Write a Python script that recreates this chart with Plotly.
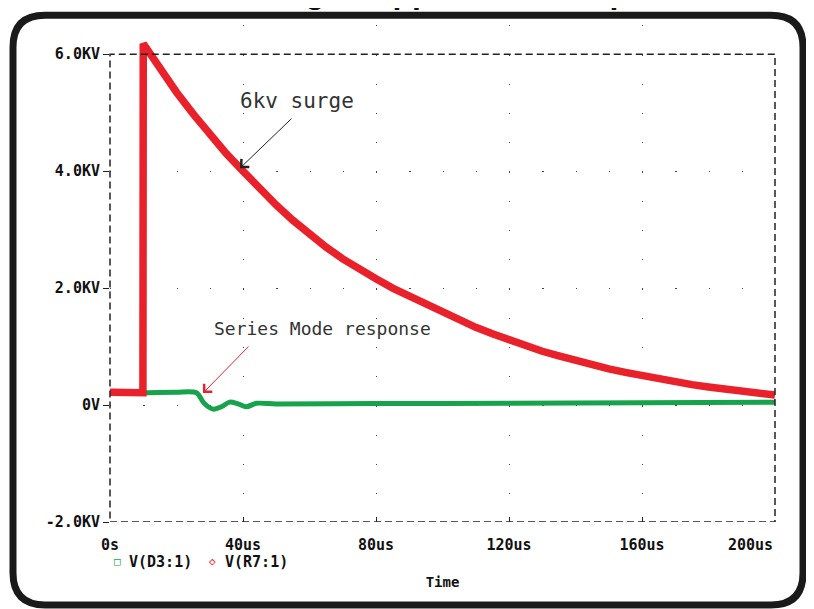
import plotly.graph_objects as go

# ---- data ----
t_surge = [0, 9.9, 10, 15, 20, 25, 30, 35, 40, 45, 50, 55, 60, 65, 70, 75, 80, 85, 90,
           95, 100, 105, 110, 115, 120, 125, 130, 135, 140, 145, 150, 155, 160, 165,
           170, 175, 180, 185, 190, 195, 200]            # us
v_surge = [0.22, 0.21, 6.18, 5.75, 5.35, 4.98, 4.63, 4.30, 4.00, 3.70, 3.42, 3.16, 2.92,
           2.70, 2.50, 2.32, 2.16, 2.00, 1.86, 1.72, 1.58, 1.45, 1.33, 1.22, 1.11, 1.01,
           0.92, 0.84, 0.76, 0.69, 0.62, 0.56, 0.50, 0.45, 0.40, 0.35, 0.31, 0.27, 0.23,
           0.20, 0.17]  # kV

t_resp = [0, 9.9, 10, 20, 26, 28.3, 31, 33.5, 36, 38.5, 41, 44, 50, 80, 120, 160, 200]
v_resp = [0.22, 0.21, 0.21, 0.22, 0.21, 0.03, -0.07, -0.03, 0.05, 0.02, -0.03, 0.03,
          0.02, 0.025, 0.03, 0.04, 0.05]

x_ticks = [0, 40, 80, 120, 160, 200]
x_labels = ["0s", "40us", "80us", "120us", "160us", "200us"]
y_ticks = [-2, 0, 2, 4, 6]
y_labels = ["-2.0KV", "0V", "2.0KV", "4.0KV", "6.0KV"]

series_names = ["V(D3:1)", "V(R7:1)"]
RED = "#e8212b"
GREEN = "#17a24c"

# page has an 8px body margin: figure is drawn from screen (8, 8)
OFF = 8
W, H = 814 - OFF, 609 - OFF
X_MIN, X_MAX = 0, 200
Y_MIN, Y_MAX = -2, 6          # framed range
Y_TOP = 6.5                   # extra headroom so the surge spike can poke above the frame
PL, PR = 110, 775             # screen x of 0s and 200us
S_LO, S_HI = 522, 54          # screen y of -2 kV and 6 kV
KV = (S_LO - S_HI) / (Y_MAX - Y_MIN)
PT, PB = S_HI - (Y_TOP - Y_MAX) * KV, S_LO
ML, MT = PL - OFF, PT - OFF
MR, MB = W - (PR - OFF), H - (PB - OFF)
PW, PH = PR - PL, PB - PT

def px(x):
    return (x - PL) / PW

def py(y):
    return (PB - y) / PH

def xd(sx):
    return X_MIN + (sx - PL) / PW * (X_MAX - X_MIN)

def yd(sy):
    return Y_MAX - (sy - S_HI) / KV

MONO = "DejaVu Sans Mono"

fig = go.Figure()
fig.add_trace(go.Scatter(x=t_resp, y=v_resp, mode="lines", name=series_names[0],
                         line=dict(color=GREEN, width=5, shape="spline", smoothing=0.8),
                         showlegend=False))
fig.add_trace(go.Scatter(x=t_surge, y=v_surge, mode="lines", name=series_names[1],
                         line=dict(color=RED, width=7.5), showlegend=False))

# rounded outer frame (screen pixels -> paper)
l, r, t, b, rad = 13, 803, 15, 605, 32
pts = [
    ("M", (l + rad, t)), ("L", (r - rad, t)), ("Q", (r, t), (r, t + rad)),
    ("L", (r, b - rad)), ("Q", (r, b), (r - rad, b)), ("L", (l + rad, b)),
    ("Q", (l, b), (l, b - rad)), ("L", (l, t + rad)), ("Q", (l, t), (l + rad, t)),
]
path = ""
for cmd, *cs in pts:
    path += cmd + " ".join(f"{px(cx):.5f},{py(cy):.5f}" for cx, cy in cs) + " "
path += "Z"

shapes = [
    dict(type="path", xref="paper", yref="paper", path=path,
         line=dict(color="#1a1a1a", width=7), fillcolor="rgba(0,0,0,0)", layer="below"),
    # hide the grid dots in the headroom above the frame
    dict(type="rect", xref="paper", yref="y", x0=-0.01, x1=1.01, y0=Y_MAX + 0.03, y1=Y_TOP,
         line=dict(width=0), fillcolor="white", layer="between"),
    dict(type="rect", xref="paper", yref="y", x0=0, x1=1, y0=Y_MIN, y1=Y_MAX,
         line=dict(color="#222", width=1.5, dash="7px,4px")),
]

annotations = [
    # clipped title at the top
    dict(text="<b>Surge Suppression Output</b>", xref="paper", yref="paper",
         x=px(455), y=1, xanchor="center", yanchor="bottom", yshift=MT - 4, showarrow=False,
         font=dict(family="Liberation Sans", size=32, color="#111")),
    # 6kv surge
    dict(text="6kv surge", xref="x", yref="y", x=xd(297), y=yd(101), showarrow=False,
         font=dict(family=MONO, size=21, color="#333")),
    dict(text="", x=xd(240), y=yd(168), xref="x", yref="y", showarrow=True, ax=53, ay=-51,
         arrowhead=4, arrowsize=2.2, arrowwidth=1, arrowcolor="#222"),
    # Series mode response
    dict(text="Series Mode response", xref="x", yref="y", x=xd(322), y=yd(328),
         showarrow=False, font=dict(family=MONO, size=18, color="#333")),
    dict(text="", x=xd(203), y=yd(393), xref="x", yref="y", showarrow=True, ax=47, ay=-48,
         arrowhead=4, arrowsize=2.2, arrowwidth=1, arrowcolor=RED),
    # last x tick label (kept inside the frame like the original)
    dict(text=f"<b>{x_labels[-1]}</b>", xref="x", yref="paper", x=x_ticks[-1], y=py(545),
         xanchor="right", yanchor="middle", showarrow=False,
         font=dict(family=MONO, size=15, color="#111")),
    # legend
    dict(text="\u25a1", xref="paper", yref="paper", x=px(117), y=py(562),
         xanchor="center", yanchor="middle", showarrow=False,
         font=dict(family=MONO, size=11, color=GREEN)),
    dict(text=f"<b>{series_names[0]}</b>", xref="paper", yref="paper", x=px(127), y=py(562),
         xanchor="left", yanchor="middle", showarrow=False,
         font=dict(family=MONO, size=15, color="#111")),
    dict(text="\u25c7", xref="paper", yref="paper", x=px(212), y=py(562),
         xanchor="center", yanchor="middle", showarrow=False,
         font=dict(family=MONO, size=11, color=RED)),
    dict(text=f"<b>{series_names[1]}</b>", xref="paper", yref="paper", x=px(223), y=py(562),
         xanchor="left", yanchor="middle", showarrow=False,
         font=dict(family=MONO, size=15, color="#111")),
]

dot_gap_y = 0.5 * KV - 1.3          # vertical spacing of grid dots (0.5 kV)
dot_gap_x = PW / 20 - 1.3           # horizontal spacing of grid dots (10 us)

fig.update_layout(
    width=W, height=H, autosize=False,
    margin=dict(l=ML, r=MR, t=MT, b=MB),
    paper_bgcolor="white", plot_bgcolor="white",
    shapes=shapes, annotations=annotations,
    xaxis=dict(range=[X_MIN, X_MAX], tickvals=x_ticks,
               ticktext=[f"<b>{s}</b>" for s in x_labels[:-1]] + [""],
               ticks="inside", ticklen=5, tickwidth=1.2, tickcolor="#222",
               showline=False, zeroline=False, showgrid=True,
               gridcolor="#444", gridwidth=1.3, griddash=f"1.3px,{dot_gap_y:.3f}px",
               tickfont=dict(family=MONO, size=15, color="#111"),
               ticklabelstandoff=12,
               title=dict(text="<b>Time</b>", standoff=24,
                          font=dict(family=MONO, size=14, color="#111"))),
    yaxis=dict(range=[Y_MIN, Y_TOP], tickvals=y_ticks,
               ticktext=[f"<b>{s}</b>" for s in y_labels],
               ticks="outside", ticklen=6, tickwidth=1.2, tickcolor="#222",
               showline=False, zeroline=False, showgrid=True,
               gridcolor="#444", gridwidth=1.3, griddash=f"1.3px,{dot_gap_x:.3f}px",
               tickfont=dict(family=MONO, size=15, color="#111")),
    showlegend=False,
)

fig.write_html("out.html")
